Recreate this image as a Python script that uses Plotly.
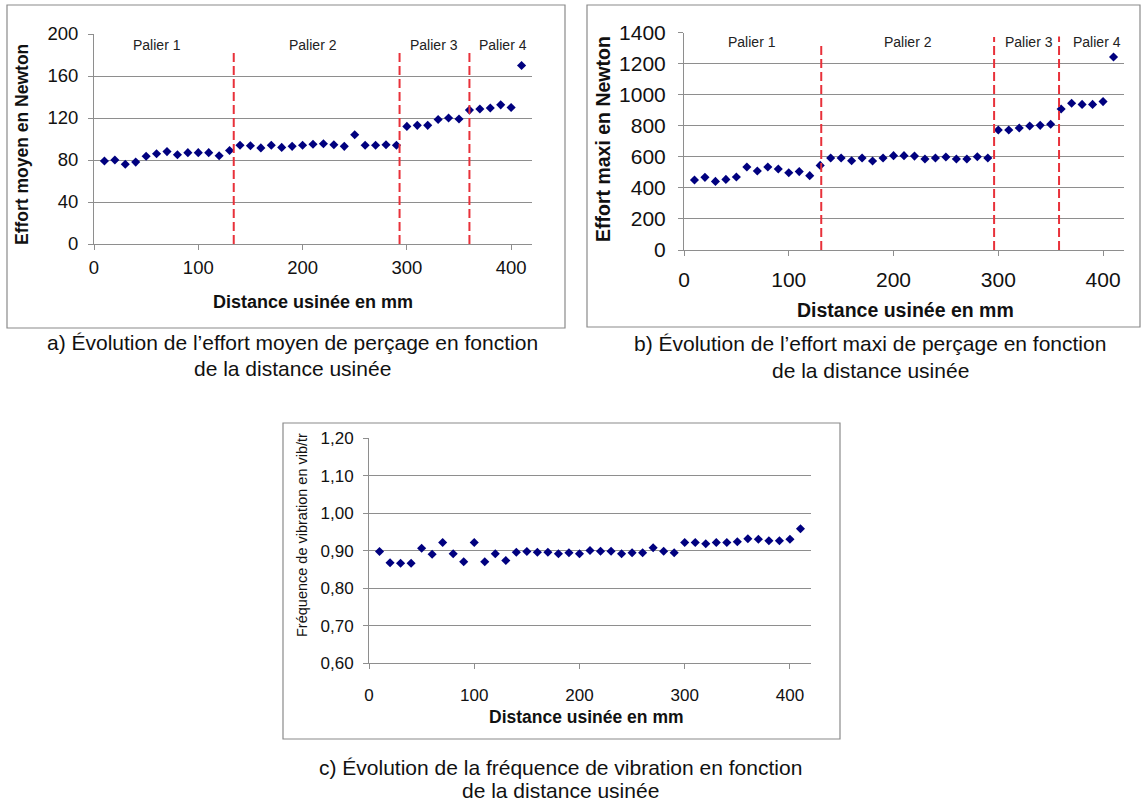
import plotly.graph_objects as go

W, H = 1141, 802
FONT = "Liberation Sans, Arial, sans-serif"
NAVY = "#00007f"
RED = "#e8313a"
GRID = "#8e8e8e"

# Machined distance (mm) for every measurement
distance = [10, 20, 30, 40, 50, 60, 70, 80, 90, 100, 110, 120, 130,
            140, 150, 160, 170, 180, 190, 200, 210, 220, 230, 240, 250,
            260, 270, 280, 290, 300, 310, 320, 330, 340, 350, 360, 370,
            380, 390, 400, 410]

# a) mean drilling force (N)
effort_moyen = [79, 80, 76, 78, 83.5, 86, 88, 85, 87, 87, 87, 84, 89,
                94, 93.5, 91.5, 94, 92, 93, 94, 95, 95.5, 94.5, 93, 104,
                94, 94, 94.5, 94,
                112, 113, 113, 118.5, 120, 119,
                127.5, 128.5, 129.5, 132.5, 130, 170]

# b) maximum drilling force (N)
effort_maxi = [451, 468, 442, 455, 470, 535, 509, 535, 522, 498, 505, 479, 545,
               593, 593, 575, 593, 573, 593, 608, 608, 605, 586, 593, 599,
               586, 586, 601, 593,
               773, 773, 786, 799, 803, 810,
               908, 945, 938, 938, 956, 1243]

# c) vibration frequency (vib/tr)
frequence = [0.898, 0.868, 0.867, 0.867, 0.907, 0.891, 0.922, 0.892, 0.871,
             0.922, 0.871, 0.892, 0.874,
             0.896, 0.898, 0.896, 0.896, 0.892, 0.895, 0.892, 0.901, 0.899,
             0.899, 0.892, 0.895, 0.895, 0.908, 0.899, 0.895,
             0.922, 0.922, 0.919, 0.922, 0.922, 0.924,
             0.932, 0.931, 0.927, 0.927, 0.931, 0.959]

# Stage ("palier") boundaries and labels
paliers = ["Palier 1", "Palier 2", "Palier 3", "Palier 4"]
limites_a = [134, 293, 360]
hauts_a = [183, 183, 183]
palier_x_a = [60, 210, 326, 392]
palier_y_a = 190
limites_b = [131, 296, 358]
hauts_b = [1322, 1372, 1376]
palier_x_b = [65, 214, 329, 394]
palier_y_b = 1342

x_ticks = [0, 100, 200, 300, 400]
freq_ticks = [0.60, 0.70, 0.80, 0.90, 1.00, 1.10, 1.20]
freq_tick_text = ["0,60", "0,70", "0,80", "0,90", "1,00", "1,10", "1,20"]

captions = [
    ("a) Évolution de l’effort moyen de perçage en fonction", "de la distance usinée"),
    ("b) Évolution de l’effort maxi de perçage en fonction", "de la distance usinée"),
    ("c) Évolution de la fréquence de vibration en fonction", "de la distance usinée"),
]


def px(x):
    return x / W


def py(y):
    return 1 - y / H


fig = go.Figure()

# scatter series
for data, xa, ya in [(effort_moyen, "x", "y"), (effort_maxi, "x2", "y2"),
                     (frequence, "x3", "y3")]:
    fig.add_trace(go.Scatter(
        x=distance, y=data, xaxis=xa, yaxis=ya, mode="markers",
        marker=dict(symbol="diamond", size=7, color=NAVY,
                    line=dict(width=0)),
        showlegend=False, hoverinfo="x+y"))


def dividers(limites, hauts, xa, ya):
    xs, ys = [], []
    for lx, top in zip(limites, hauts):
        xs += [lx, lx, None]
        ys += [0, top, None]
    fig.add_trace(go.Scatter(
        x=xs, y=ys, xaxis=xa, yaxis=ya, mode="lines",
        line=dict(color=RED, width=2, dash="9px,4px"),
        showlegend=False, hoverinfo="skip", cliponaxis=False))


dividers(limites_a, hauts_a, "x", "y")
dividers(limites_b, hauts_b, "x2", "y2")

annotations = []
for name, xv in zip(paliers, palier_x_a):
    annotations.append(dict(x=xv, y=palier_y_a, xref="x", yref="y", text=name,
                            showarrow=False, font=dict(size=14, color="#222")))
for name, xv in zip(paliers, palier_x_b):
    annotations.append(dict(x=xv, y=palier_y_b, xref="x2", yref="y2", text=name,
                            showarrow=False, font=dict(size=14, color="#222")))


def title(text, x, y, size, bold=True, angle=0):
    t = f"<b>{text}</b>" if bold else text
    annotations.append(dict(x=px(x), y=py(y), xref="paper", yref="paper",
                            text=t, showarrow=False, textangle=angle,
                            font=dict(size=size, color="#111"),
                            xanchor="center", yanchor="middle"))


title("Effort moyen en Newton", 22, 145, 17.5, angle=-90)
title("Distance usinée en mm", 313, 302, 18)
title("Effort maxi en Newton", 603, 139, 19.5, angle=-90)
title("Distance usinée en mm", 905, 310, 19.5)
title("Fréquence de vibration en vib/tr", 302, 535, 14.5, bold=False, angle=-90)
title("Distance usinée en mm", 586, 717, 17.5)

# two-line captions under each panel
for (l1, l2), cx, y1, y2 in [(captions[0], 292, 342, 368),
                             (captions[1], 870, 344, 370),
                             (captions[2], 560, 767, 790)]:
    for text, cy in [(l1, y1), (l2, y2)]:
        annotations.append(dict(x=px(cx), y=py(cy), xref="paper", yref="paper",
                                text=text, showarrow=False,
                                font=dict(size=21, color="#111"),
                                xanchor="center", yanchor="middle"))

# panel frames
shapes = []
for x0, y0, x1, y1 in [(7, 5, 565, 328), (587, 5, 1140, 327),
                       (283, 423, 840, 739)]:
    shapes.append(dict(type="rect", xref="paper", yref="paper",
                       x0=px(x0), x1=px(x1), y0=py(y1), y1=py(y0),
                       line=dict(color="#8a8a8a", width=1.2)))


def xaxis(dom, size, standoff):
    return dict(domain=[px(dom[0]), px(dom[1])], range=[0, 420],
                tickvals=x_ticks, showgrid=False, zeroline=False,
                showline=True, linecolor=GRID, linewidth=1,
                ticks="outside", ticklen=5, tickcolor=GRID,
                ticklabelstandoff=standoff, automargin=False,
                tickfont=dict(size=size, color="#111"))


def yaxis(dom, rng, size, standoff, **kw):
    d = dict(domain=[py(dom[1]), py(dom[0])], range=rng,
             showgrid=True, gridcolor=GRID, gridwidth=1, zeroline=False,
             showline=True, linecolor=GRID, linewidth=1,
             ticks="outside", ticklen=5, tickcolor=GRID,
             ticklabelstandoff=standoff, automargin=False,
             tickfont=dict(size=size, color="#111"))
    d.update(kw)
    return d


fig.update_layout(
    width=W, height=H,
    margin=dict(l=0, r=0, t=0, b=0, pad=0, autoexpand=False),
    paper_bgcolor="white", plot_bgcolor="white",
    font=dict(family=FONT, color="#111"),
    xaxis=xaxis((94, 532), 18.5, 2),
    yaxis=yaxis((34, 244), [0, 200], 18.5, 6, dtick=40, anchor="x"),
    xaxis2=xaxis((684, 1124), 21, 6),
    yaxis2=yaxis((32.7, 250), [0, 1400], 21, 8, dtick=200, anchor="x2"),
    xaxis3=xaxis((369, 811), 17, 11),
    yaxis3=yaxis((438.3, 663.3), [0.6, 1.2], 17, 6, tickvals=freq_ticks,
                 ticktext=freq_tick_text, anchor="x3"),
    annotations=annotations,
    shapes=shapes,
)
fig.layout.xaxis.anchor = "y"
fig.layout.xaxis2.anchor = "y2"
fig.layout.xaxis3.anchor = "y3"

fig.write_html("out.html")
